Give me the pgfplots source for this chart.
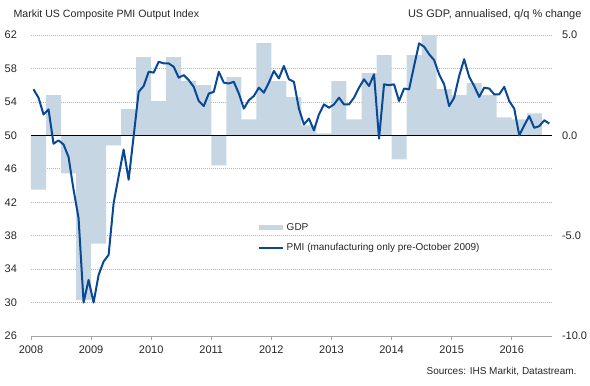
\documentclass[border=0pt]{standalone}
\usepackage{fontspec}
\setmainfont{Liberation Sans}
\usepackage{pgfplots}
\pgfplotsset{compat=1.18}
\definecolor{gdpcol}{HTML}{C6D6E3}
\definecolor{pmicol}{RGB}{8,72,148}
\definecolor{txt}{HTML}{262626}
\definecolor{gridc}{HTML}{B4B4B4}
\definecolor{axc}{HTML}{A6A6A6}
\begin{document}
\begin{tikzpicture}[x=1pt,y=1pt]
\useasboundingbox (0,0) rectangle (590,386);
\pgfplotsset{base/.style={at={(31pt,50pt)}, anchor=south west, scale only axis,
  width=521pt, height=301pt, xmin=2008, xmax=2016.67, clip=false}}
% ---- axis 1: grid, left labels, x axis
\begin{axis}[base, ymin=26, ymax=62,
  axis x line*=bottom, axis y line*=left,
  y axis line style={draw=none},
  x axis line style={draw=axc, line width=0.8pt, -},
  xtick={2008,2009,2010,2011,2012,2013,2014,2015,2016},
  xticklabels={2008,2009,2010,2011,2012,2013,2014,2015,2016},
  xtick style={draw=axc, line width=0.8pt},
  tick align=outside, major tick length=4pt,
  ytick={26,30,34,38,42,46,50,54,58,62},
  yticklabels={26,30,34,38,42,46,50,54,58,62},
  ytick style={draw=none},
  ymajorgrids, major grid style={draw=gridc, dash pattern=on 1pt off 1pt, line width=0.6pt},
  ticklabel style={font=\fontsize{11}{13}\selectfont, text=txt},
  xticklabel style={yshift=-2pt},
  yticklabel style={xshift=-6.5pt},
]
\end{axis}
% ---- axis 2: GDP bars, right labels
\begin{axis}[base, ymin=-10, ymax=5,
  axis x line=none, axis y line*=right,
  y axis line style={draw=none},
  ytick={-10,-5,0,5}, yticklabels={-10.0,-5.0,0.0,5.0},
  ytick style={draw=none},
  yticklabel style={font=\fontsize{11}{13}\selectfont, text=txt, xshift=6.5pt},
]
\addplot[ybar, bar width=0.25, bar shift=0pt, fill=gdpcol, draw=none] coordinates {
(2008.125,-2.7) (2008.375,2.0) (2008.625,-1.9) (2008.875,-8.2)
(2009.125,-5.4) (2009.375,-0.5) (2009.625,1.3) (2009.875,3.9)
(2010.125,1.7) (2010.375,3.9) (2010.625,2.7) (2010.875,2.5)
(2011.125,-1.5) (2011.375,2.9) (2011.625,0.8) (2011.875,4.6)
(2012.125,2.7) (2012.375,1.9) (2012.625,0.5) (2012.875,0.1)
(2013.125,2.7) (2013.375,0.8) (2013.625,3.1) (2013.875,4.0)
(2014.125,-1.2) (2014.375,4.0) (2014.625,5.0) (2014.875,2.3)
(2015.125,2.0) (2015.375,2.6) (2015.625,2.0) (2015.875,0.9)
(2016.125,0.8) (2016.375,1.1)
};
\addplot[black, line width=1pt] coordinates {(2008,0) (2016.67,0)};
\end{axis}
% ---- axis 3: PMI line + legend
\begin{axis}[base, ymin=26, ymax=62, hide axis,
  legend style={draw=none, fill=none, at={(0.4319,0.3266)}, anchor=west,
    inner sep=0pt, row sep=9pt, font=\fontsize{10}{12}\selectfont, text=txt,
    nodes={inner sep=1.5pt}},
  legend cell align=left,
  legend image code/.code={\draw[#1] (0pt,0pt) -- (24pt,0pt);},
]
\addlegendimage{gdpcol, line width=5pt}
\addlegendentry{GDP}
\addplot[pmicol, line width=2pt, line join=round] table[x=x, y=y] {
x y
2008.0417 55.5
2008.125 54.5
2008.2083 52.5
2008.2917 53.1
2008.375 49.0
2008.4583 49.4
2008.5417 48.9
2008.625 47.4
2008.7083 43.5
2008.7917 40.1
2008.875 30.0
2008.9583 32.7
2009.0417 30.0
2009.125 33.3
2009.2083 34.9
2009.2917 35.7
2009.375 41.9
2009.4583 45.1
2009.5417 48.3
2009.625 44.7
2009.7083 49.9
2009.7917 55.2
2009.875 55.9
2009.9583 57.6
2010.0417 57.5
2010.125 58.8
2010.2083 58.6
2010.2917 58.6
2010.375 58.2
2010.4583 56.9
2010.5417 57.2
2010.625 56.6
2010.7083 55.8
2010.7917 54.1
2010.875 53.5
2010.9583 55.0
2011.0417 55.2
2011.125 57.6
2011.2083 56.3
2011.2917 56.2
2011.375 56.4
2011.4583 55.0
2011.5417 53.2
2011.625 54.2
2011.7083 54.7
2011.7917 55.7
2011.875 55.1
2011.9583 56.3
2012.0417 57.7
2012.125 56.8
2012.2083 58.3
2012.2917 56.7
2012.375 56.4
2012.4583 53.2
2012.5417 51.3
2012.625 52.0
2012.7083 50.6
2012.7917 52.5
2012.875 53.7
2012.9583 53.3
2013.0417 53.7
2013.125 54.5
2013.2083 53.7
2013.2917 53.7
2013.375 54.5
2013.4583 55.7
2013.5417 56.7
2013.625 55.9
2013.7083 57.3
2013.7917 49.6
2013.875 56.1
2013.9583 56.0
2014.0417 56.1
2014.125 54.1
2014.2083 55.6
2014.2917 55.5
2014.375 58.3
2014.4583 61.0
2014.5417 60.6
2014.625 59.7
2014.7083 59.0
2014.7917 57.3
2014.875 56.1
2014.9583 53.5
2015.0417 54.5
2015.125 57.1
2015.2083 59.1
2015.2917 57.0
2015.375 55.9
2015.4583 54.6
2015.5417 55.7
2015.625 55.6
2015.7083 54.9
2015.7917 54.9
2015.875 55.8
2015.9583 54.1
2016.0417 53.2
2016.125 50.0
2016.2083 51.2
2016.2917 52.3
2016.375 50.9
2016.4583 51.1
2016.5417 51.8
2016.625 51.4
};
\addlegendentry{PMI (manufacturing only pre-October 2009)}
\end{axis}
\node[anchor=base west, font=\fontsize{10.6}{13}\selectfont, text=txt] at (10,368) {Markit US Composite PMI Output Index};
\node[anchor=base east, font=\fontsize{11}{13}\selectfont, text=txt] at (585,368) {US GDP, annualised, q/q \% change};
\node[anchor=base east, font=\fontsize{10}{12}\selectfont, text=txt] at (580,11) {Sources: IHS Markit, Datastream.};
\end{tikzpicture}
\end{document}
